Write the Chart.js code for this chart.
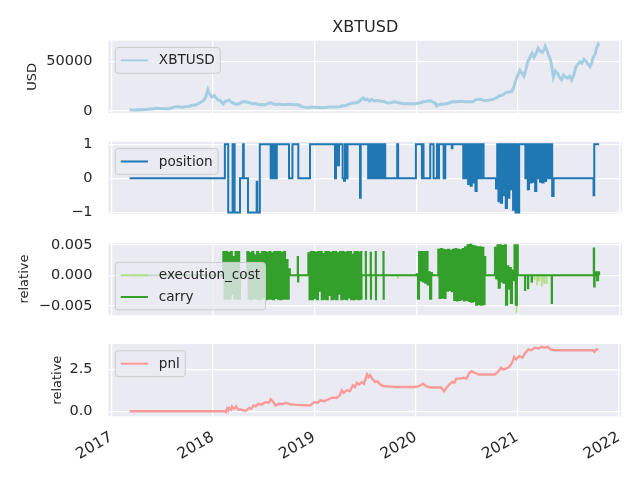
<!DOCTYPE html>
<html>
<head>
<meta charset="utf-8">
<script src="https://cdn.jsdelivr.net/npm/chart.js@4.4.1/dist/chart.umd.min.js"></script>
<style>
  body { margin: 0; background: #fff; }
  #wrap { position: relative; width: 640px; height: 480px; }
  #wrap canvas { position: absolute; left: 0; top: 0; pointer-events: none; }
</style>
</head>
<body>
<div id="wrap">
  <canvas id="pricePanel" width="640" height="480"></canvas>
  <canvas id="positionPanel" width="640" height="480"></canvas>
  <canvas id="costPanel" width="640" height="480"></canvas>
  <canvas id="pnlPanel" width="640" height="480"></canvas>
</div>
<script>
// ---- data (dates are decimal years) ----
const yearTicks = [2017, 2018, 2019, 2020, 2021, 2022];
const usdTicks = [0, 50000];
const positionTicks = [-1, 0, 1];
const relCostTicks = [-0.005, 0, 0.005];
const pnlTicks = [0, 2.5];

// XBTUSD close
const pricePoints = [
  [2017.18, 1150], [2017.21, 1050], [2017.24, 1100], [2017.27, 1200], [2017.30, 1350], [2017.33, 1550],
  [2017.36, 1800], [2017.39, 2300], [2017.41, 2100], [2017.44, 2650], [2017.46, 2450], [2017.49, 2550],
  [2017.52, 2350], [2017.54, 2500], [2017.56, 2100], [2017.58, 2750], [2017.60, 3200], [2017.62, 4100],
  [2017.64, 4300], [2017.66, 4500], [2017.68, 3900], [2017.70, 3700], [2017.72, 4200], [2017.75, 4400],
  [2017.77, 4800], [2017.79, 5700], [2017.81, 6000], [2017.83, 5800], [2017.85, 7200], [2017.87, 8000],
  [2017.89, 9800], [2017.91, 10500], [2017.93, 14500], [2017.95, 21500], [2017.96, 19000], [2017.97, 16500],
  [2017.99, 14000], [2018.01, 15500], [2018.03, 13500], [2018.05, 11000], [2018.07, 10800], [2018.09, 8000],
  [2018.10, 7000], [2018.12, 9500], [2018.14, 10500], [2018.16, 11000], [2018.18, 9000], [2018.20, 8000],
  [2018.22, 7000], [2018.24, 6800], [2018.26, 7500], [2018.28, 8800], [2018.30, 9400], [2018.33, 9000],
  [2018.36, 8300], [2018.39, 7300], [2018.42, 7600], [2018.45, 6300], [2018.48, 6500], [2018.51, 6300],
  [2018.54, 7400], [2018.57, 8200], [2018.60, 7000], [2018.62, 6300], [2018.65, 7000], [2018.68, 6400],
  [2018.72, 6600], [2018.76, 6500], [2018.80, 6400], [2018.84, 6300], [2018.87, 4500], [2018.90, 3900],
  [2018.93, 3400], [2018.96, 4000], [2019.00, 3800], [2019.04, 3600], [2019.08, 3400], [2019.12, 3800],
  [2019.16, 3900], [2019.20, 4000], [2019.25, 4300], [2019.27, 5200], [2019.31, 5600], [2019.34, 7000],
  [2019.37, 8100], [2019.40, 8000], [2019.43, 9000], [2019.46, 11500], [2019.48, 13000], [2019.50, 11000],
  [2019.52, 12000], [2019.54, 10000], [2019.56, 11500], [2019.59, 10200], [2019.62, 10500], [2019.65, 10000],
  [2019.68, 9600], [2019.71, 8200], [2019.74, 8000], [2019.78, 9300], [2019.81, 8700], [2019.84, 8000],
  [2019.87, 7300], [2019.91, 7500], [2019.95, 7200], [2019.99, 7200], [2020.03, 8000], [2020.07, 9300],
  [2020.10, 9700], [2020.13, 10200], [2020.15, 9800], [2020.17, 8600], [2020.19, 7800], [2020.20, 5000],
  [2020.22, 6300], [2020.25, 6700], [2020.28, 7100], [2020.31, 7600], [2020.34, 8800], [2020.37, 9600],
  [2020.40, 9200], [2020.44, 9700], [2020.48, 9400], [2020.52, 9200], [2020.56, 9300], [2020.58, 11000],
  [2020.61, 11700], [2020.64, 11500], [2020.67, 10500], [2020.71, 10800], [2020.75, 11500], [2020.79, 13200],
  [2020.82, 15300], [2020.85, 16000], [2020.88, 18500], [2020.91, 19000], [2020.94, 19500], [2020.96, 24000],
  [2020.98, 31000], [2021.00, 36000], [2021.02, 41000], [2021.04, 38000], [2021.06, 35000], [2021.08, 42000],
  [2021.10, 50000], [2021.12, 54000], [2021.14, 58000], [2021.16, 54000], [2021.18, 58000], [2021.20, 63000],
  [2021.22, 60000], [2021.24, 59000], [2021.26, 62000], [2021.27, 65000], [2021.29, 60000], [2021.30, 57000],
  [2021.32, 52000], [2021.33, 47000], [2021.35, 34000], [2021.37, 40000], [2021.39, 38000], [2021.41, 34000],
  [2021.43, 31500], [2021.45, 36000], [2021.47, 34000], [2021.49, 33000], [2021.51, 35000], [2021.53, 31000],
  [2021.55, 36000], [2021.57, 44000], [2021.59, 47000], [2021.61, 49500], [2021.63, 48000], [2021.65, 52000],
  [2021.67, 50000], [2021.69, 47000], [2021.71, 44500], [2021.73, 49000], [2021.74, 54000], [2021.76, 57000],
  [2021.775, 63000], [2021.79, 67000], [2021.80, 65500]
];

// position: each value holds from its date until the next one
const positionPoints = [
  [2017.18, 0], [2018.117, 1], [2018.150, -1], [2018.193, 1], [2018.213, -1], [2018.266, 0],
  [2018.296, 1], [2018.303, 0], [2018.345, -1], [2018.430, -0.1], [2018.436, -1], [2018.461, 1],
  [2018.748, 0], [2018.782, 1], [2018.840, 0], [2018.955, 1],
  [2019.201, 0], [2019.211, 1], [2019.230, 0.38], [2019.240, 1], [2019.276, 0], [2019.289, -0.07],
  [2019.299, 1], [2019.316, 0], [2019.324, 1], [2019.447, -0.57], [2019.454, 1],
  [2019.695, 0], [2019.813, 1], [2019.822, 0], [2019.997, 1], [2020.056, 0], [2020.062, 1], [2020.072, 0],
  [2020.138, 1], [2020.171, 0], [2020.204, 1], [2020.214, 0], [2020.224, 1], [2020.270, 0], [2020.286, 1],
  [2020.350, 0.88], [2020.356, 1], [2020.663, 0], [2021.025, 1], [2021.352, 0],
  [2021.745, -0.5], [2021.752, 1], [2021.80, 1]
];

// fast switching stretches, one value per BURST_STEP
const BURST_STEP = 0.012;
const positionBursts = [
  { start: 2018.568, values: [0, 1, 0, 1, 0, 1] },
  { start: 2019.527, values: [0, 1, 0, 1, 0, 1, 0, 1, 0, 1, 0, 1, 0, 1] },
  { start: 2020.463, values: [0, 1, 0, 1, -0.17, 1, -0.22, 1, -0.12, 1, -0.37, 1, 0, 1, 0, 1] },
  { start: 2020.785, values: [-0.3, 1, -0.67, 1, -0.72, 1, -0.5, 1, -0.87, 1, -0.57, 1, -0.32, 1, -0.92, 1, -1, 1, -1, 1] },
  { start: 2021.074, values: [0, 1, -0.32, 1, -0.12, 1, -0.1, 1, -0.37, 1, 0, 1, -0.1, 1, -0.12, 1, -0.08, 1, 0, 1, 0, 1, -0.52] }
];

const executionCostPoints = [
  [2017.18, 0],
  [2018.116, 0], [2018.118, -0.0006], [2018.120, 0], [2018.148, 0], [2018.150, -0.0010], [2018.152, 0],
  [2018.345, 0], [2018.347, -0.0009], [2018.349, 0], [2018.459, 0], [2018.461, -0.0010], [2018.463, 0],
  [2018.953, 0], [2018.955, -0.0012], [2018.957, 0], [2019.198, 0], [2019.201, -0.0007], [2019.204, 0],
  [2019.445, 0], [2019.447, -0.0011], [2019.449, 0], [2019.608, 0], [2019.610, -0.0006], [2019.612, 0],
  [2019.818, 0], [2019.820, -0.0005], [2019.822, 0], [2020.215, 0], [2020.217, -0.0005], [2020.219, 0],
  [2020.797, 0], [2020.800, -0.0009], [2020.803, 0], [2020.815, 0], [2020.818, -0.0016], [2020.821, 0],
  [2020.977, 0], [2020.980, -0.0035], [2020.983, 0], [2020.986, 0], [2020.988, -0.0062], [2020.990, 0],
  [2021.135, 0], [2021.138, -0.0013], [2021.141, 0], [2021.160, 0], [2021.163, -0.0008], [2021.166, 0],
  [2021.185, 0], [2021.188, -0.0016], [2021.191, 0], [2021.205, 0], [2021.208, -0.0010], [2021.211, 0],
  [2021.232, 0], [2021.235, -0.0018], [2021.238, 0], [2021.255, 0], [2021.258, -0.0012], [2021.261, 0],
  [2021.280, 0], [2021.283, -0.0014], [2021.286, 0], [2021.747, 0], [2021.749, -0.0018], [2021.751, 0],
  [2021.80, 0]
];

const carryPoints = [
  [2017.18, 0], [2018.100, 0], [2018.266, 0], [2018.336, 0], [2018.757, 0],
  [2018.830, 0], [2018.834, 0.0030], [2018.837, -0.0010], [2018.840, 0], [2018.936, 0],
  [2019.450, 0], [2019.456, 0], [2019.458, 0.0038], [2019.460, -0.0038], [2019.462, 0],
  [2019.501, 0], [2019.503, 0.0038], [2019.505, -0.0038], [2019.507, 0],
  [2019.550, 0], [2019.552, 0.0037], [2019.554, -0.0038], [2019.556, 0],
  [2019.599, 0], [2019.601, 0.0038], [2019.603, -0.0039], [2019.605, 0],
  [2019.675, 0], [2019.677, 0.0038], [2019.679, -0.0038], [2019.681, 0],
  [2020.000, 0], [2020.155, 0], [2020.215, 0], [2020.680, 0], [2020.773, 0], [2021.000, 0],
  [2021.068, 0], [2021.070, -0.0024], [2021.073, 0], [2021.097, 0], [2021.100, -0.0021], [2021.103, 0],
  [2021.133, 0], [2021.136, -0.0010], [2021.139, 0], [2021.330, 0], [2021.333, -0.0045], [2021.336, 0],
  [2021.744, 0], [2021.747, 0.0044], [2021.751, -0.0018], [2021.756, 0], [2021.770, 0.0005],
  [2021.780, -0.0008], [2021.790, 0.0005], [2021.800, 0]
];

const carryBursts = [
  { start: 2018.102, values: [0.0038, -0.0038, 0.0038, -0.0038, 0.0037, -0.0038, 0.0038, -0.0030, 0.0030, -0.0038, 0.0038, -0.0038, 0.0038, -0.0038] },
  { start: 2018.338, values: [0.0038, -0.0038, 0.0036, -0.0039, 0.0038, -0.0037, 0.0033, -0.0038, 0.0038, -0.0039, 0.0035, -0.0038,
                               0.0038, -0.0036, 0.0038, -0.0039, 0.0037, -0.0038, 0.0038, -0.0038, 0.0036, -0.0039, 0.0038, -0.0037,
                               0.0038, -0.0038, 0.0038, -0.0039, 0.0037, -0.0038, 0.0038, -0.0038, 0.0025, -0.0038, 0.0010] },
  { start: 2018.938, values: [0.0036, -0.0039, 0.0038, -0.0039, 0.0038, -0.0037, 0.0037, -0.0039, 0.0038, -0.0025, 0.0038, -0.0039,
                               0.0035, -0.0038, 0.0038, -0.0039, 0.0038, -0.0032, 0.0037, -0.0039, 0.0038, -0.0038, 0.0038, -0.0039,
                               0.0036, -0.0030, 0.0038, -0.0039, 0.0038, -0.0038, 0.0037, -0.0039, 0.0038, -0.0036, 0.0038, -0.0039,
                               0.0034, -0.0039, 0.0038, -0.0038, 0.0038, -0.0039, 0.0037] },
  { start: 2020.004, values: [0.0002, -0.0038, 0.0038, -0.0008, 0.0038, -0.0010, 0.0038, -0.0012, 0.0038, -0.0015, 0.0005, -0.0038, 0.0004] },
  { start: 2020.217, values: [0.0042, -0.0037, 0.0043, -0.0036, 0.0042, -0.0037, 0.0041, -0.0025, 0.0042, -0.0024, 0.0040, -0.0026,
                               0.0042, -0.0040, 0.0043, -0.0041, 0.0042, -0.0040, 0.0041, -0.0039, 0.0043, -0.0041, 0.0046, -0.0040,
                               0.0049, -0.0042, 0.0050, -0.0043, 0.0048, -0.0042, 0.0047, -0.0048, 0.0046, -0.0047, 0.0046, -0.0048,
                               0.0045, -0.0047, 0.0030] },
  { start: 2020.775, values: [0.0045, -0.0005, 0.0049, -0.0020, 0.0049, -0.0010, 0.0048, -0.0012, 0.0049, -0.0048, 0.0015, -0.0022,
                               0.0012, -0.0045, 0.0008, -0.0008, 0.0049, -0.0048, 0.0049] }
];

const pnlPoints = [
  [2017.18, 0], [2018.12, 0], [2018.13, -0.05], [2018.14, 0.15], [2018.15, 0.05], [2018.16, 0.2], [2018.18, 0.1],
  [2018.19, 0.28], [2018.21, 0.15], [2018.23, 0.3], [2018.25, 0.1], [2018.27, 0.12], [2018.30, 0.05], [2018.33, 0.05],
  [2018.36, 0.2], [2018.38, 0.15], [2018.40, 0.35], [2018.42, 0.3], [2018.45, 0.45], [2018.48, 0.4], [2018.52, 0.55],
  [2018.55, 0.5], [2018.57, 0.72], [2018.59, 0.6], [2018.62, 0.35], [2018.65, 0.45], [2018.68, 0.42], [2018.72, 0.5],
  [2018.76, 0.42], [2018.83, 0.38], [2018.96, 0.35], [2019.00, 0.55], [2019.03, 0.5], [2019.06, 0.65], [2019.10, 0.6],
  [2019.14, 0.72], [2019.18, 0.82], [2019.22, 0.8], [2019.25, 0.95], [2019.27, 1.25], [2019.29, 1.1], [2019.32, 1.25],
  [2019.35, 1.2], [2019.38, 1.55], [2019.40, 1.45], [2019.42, 1.7], [2019.44, 1.6], [2019.47, 1.75], [2019.49, 1.65],
  [2019.52, 2.2], [2019.535, 2.05], [2019.55, 2.15], [2019.57, 1.95], [2019.60, 1.75], [2019.62, 1.8], [2019.65, 1.6],
  [2019.68, 1.5], [2019.70, 1.5], [2019.80, 1.45], [2019.99, 1.45], [2020.03, 1.5], [2020.07, 1.65], [2020.10, 1.5],
  [2020.15, 1.42], [2020.25, 1.42], [2020.28, 1.2], [2020.30, 1.4], [2020.33, 1.6], [2020.36, 1.75], [2020.38, 1.7],
  [2020.40, 1.95], [2020.44, 1.95], [2020.47, 2.0], [2020.50, 1.95], [2020.53, 2.3], [2020.55, 2.4], [2020.58, 2.3],
  [2020.62, 2.2], [2020.66, 2.2], [2020.78, 2.2], [2020.81, 2.35], [2020.84, 2.6], [2020.86, 2.5], [2020.89, 2.55],
  [2020.92, 2.65], [2020.95, 2.9], [2020.97, 3.25], [2020.99, 3.1], [2021.02, 3.3], [2021.05, 3.2], [2021.08, 3.5],
  [2021.11, 3.7], [2021.14, 3.65], [2021.17, 3.8], [2021.21, 3.75], [2021.24, 3.85], [2021.27, 3.8], [2021.30, 3.85],
  [2021.33, 3.7], [2021.36, 3.65], [2021.74, 3.65], [2021.76, 3.55], [2021.78, 3.7], [2021.80, 3.68]
];

// ---- look ----
const FONT = 'DejaVu Sans';
const INK = '#262626';
const FACE = '#eaeaf2';
const X_MIN = 2016.972, X_MAX = 2022.025;
const frame = { left: 108.5, right: 622, height: 72.3, tops: [40.7, 141.8, 242.9, 344] };
const MINUS = '\u2212';

function series(points, bursts = []) {
  const pts = points.map(([x, y]) => ({ x, y }));
  bursts.forEach(b => b.values.forEach((y, i) => pts.push({ x: b.start + i * BURST_STEP, y })));
  return pts.sort((a, b) => a.x - b.x);
}

const panelBackground = {
  id: 'panelBackground',
  beforeDraw(chart) {
    const { ctx, chartArea: a } = chart;
    ctx.save();
    ctx.fillStyle = FACE;
    ctx.fillRect(a.left, a.top, a.right - a.left, a.bottom - a.top);
    ctx.restore();
  }
};

// matplotlib style legend box inside the axes
const boxLegend = {
  id: 'boxLegend',
  afterDatasetsDraw(chart, args, opts) {
    const { ctx, chartArea: a } = chart;
    const fs = 13.6;
    const sets = chart.data.datasets;
    ctx.save();
    ctx.font = fs + 'px "' + FONT + '"';
    const pad = 0.4 * fs, handle = 2 * fs, gap = 0.8 * fs, rowH = 14.9, spacing = 0.5 * fs;
    const textW = Math.max(...sets.map(d => ctx.measureText(d.label).width));
    const w = pad + handle + gap + textW + pad;
    const h = 2 * pad + sets.length * rowH + (sets.length - 1) * spacing;
    const x = a.left + 0.5 * fs;
    const y = opts.corner === 'lower left' ? a.bottom - 0.5 * fs - h + 1.5 : a.top + 0.5 * fs;
    ctx.beginPath();
    ctx.roundRect(x, y, w, h, 3);
    ctx.globalAlpha = 0.8;
    ctx.fillStyle = FACE;
    ctx.fill();
    ctx.globalAlpha = 1;
    ctx.strokeStyle = '#cccccc';
    ctx.lineWidth = 1;
    ctx.stroke();
    sets.forEach((d, i) => {
      const cy = y + pad + i * (rowH + spacing) + rowH / 2;
      ctx.beginPath();
      ctx.strokeStyle = d.borderColor;
      ctx.lineWidth = 2;
      ctx.moveTo(x + pad, cy);
      ctx.lineTo(x + pad + handle, cy);
      ctx.stroke();
      ctx.fillStyle = INK;
      ctx.textBaseline = 'middle';
      ctx.textAlign = 'left';
      ctx.fillText(d.label, x + pad + handle + gap, cy + 0.5);
    });
    ctx.restore();
  }
};

function panel(id, index, datasets, y, opts = {}) {
  const top = frame.tops[index];
  const last = index === 3;
  const grid = { color: '#ffffff', lineWidth: 1.3, drawTicks: false };
  return new Chart(document.getElementById(id), {
    type: 'line',
    data: { datasets },
    plugins: [panelBackground, boxLegend],
    options: {
      responsive: false,
      animation: false,
      events: [],
      layout: {
        padding: {
          left: 0,
          right: 640 - frame.right,
          top: opts.title ? 0 : top,
          bottom: last ? 0 : 480 - top - frame.height
        }
      },
      elements: { point: { radius: 0 }, line: { tension: 0 } },
      plugins: {
        legend: { display: false },
        tooltip: { enabled: false },
        title: opts.title ? {
          display: true, text: opts.title, color: INK, fullSize: false,
          font: { family: FONT, size: 16, weight: 'normal' },
          padding: { top: 18, bottom: top - 18 - 19.2 }
        } : { display: false },
        boxLegend: { corner: opts.corner || 'upper left' }
      },
      scales: {
        x: {
          type: 'linear', min: X_MIN, max: X_MAX,
          afterBuildTicks: ax => { ax.ticks = yearTicks.map(v => ({ value: v })); },
          afterFit: ax => { ax.height = last ? 480 - top - frame.height : 0; },
          grid, border: { display: false },
          ticks: {
            display: last, autoSkip: false, minRotation: 30, maxRotation: 30, padding: 12,
            color: INK, font: { family: FONT, size: 15.3 },
            callback: v => String(v)
          }
        },
        y: {
          min: y.min, max: y.max,
          afterBuildTicks: ax => { ax.ticks = y.ticks.map(v => ({ value: v })); },
          afterFit: ax => { ax.width = frame.left; },
          grid, border: { display: false },
          ticks: { padding: 16, color: INK, font: { family: FONT, size: 14.5 }, callback: y.format },
          title: y.title ? {
            display: true, text: y.title, color: INK,
            font: { family: FONT, size: 13 },
            padding: { top: y.titleX - 7.8, bottom: 0 }
          } : { display: false }
        }
      }
    }
  });
}

const signed = v => (v < 0 ? MINUS : '') + Math.abs(v);

panel('pricePanel', 0, [
  { label: 'XBTUSD', data: series(pricePoints), borderColor: '#a6cee3', borderWidth: 3 }
], { min: -2000, max: 70600, ticks: usdTicks, format: v => String(v), title: 'USD', titleX: 32.5 },
{ title: 'XBTUSD' });

panel('positionPanel', 1, [
  { label: 'position', data: series(positionPoints, positionBursts), borderColor: '#1f78b4', borderWidth: 2, stepped: true }
], { min: -1.05, max: 1.07, ticks: positionTicks, format: signed });

panel('costPanel', 2, [
  { label: 'execution_cost', data: series(executionCostPoints), borderColor: '#b2df8a', borderWidth: 1.8, order: 2 },
  { label: 'carry', data: series(carryPoints, carryBursts), borderColor: '#33a02c', borderWidth: 2, stepped: true, order: 1 }
], { min: -0.0065, max: 0.0053, ticks: relCostTicks,
     format: v => (v < 0 ? MINUS : '') + Math.abs(v).toFixed(3), title: 'relative', titleX: 25 },
{ corner: 'lower left' });

panel('pnlPanel', 3, [
  { label: 'pnl', data: series(pnlPoints), borderColor: '#fb9a99', borderWidth: 2.4 }
], { min: -0.3, max: 4.02, ticks: pnlTicks, format: v => v.toFixed(1), title: 'relative', titleX: 57.2 });
</script>
